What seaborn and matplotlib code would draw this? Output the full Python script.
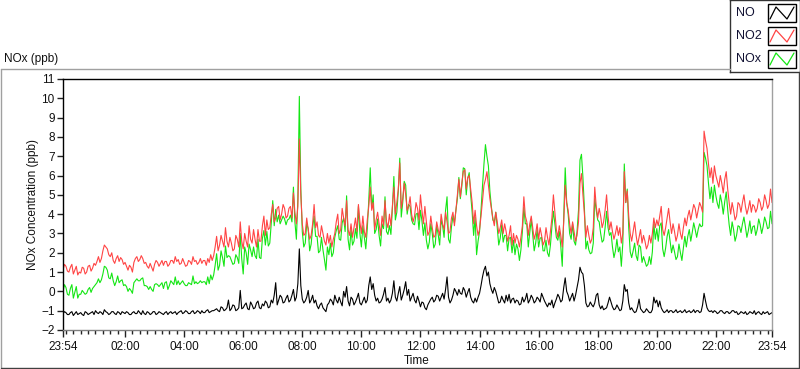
import matplotlib
matplotlib.use("Agg")
import matplotlib.pyplot as plt
import matplotlib.dates as mdates
from matplotlib.lines import Line2D
from matplotlib.patches import Rectangle
import pandas as pd
import seaborn as sns

OUT_PATH = "out.png"

# readings every 6 min from 23:54 to 23:54 next day (first value, then one row per hour)
START = "2015-06-01 23:54"
STEP = "6min"
# in-between readings, 3 min later (23:57, then rows of :03..:57, last row stops at 23:51)
MID_OFFSET = "3min"

NO_PPB = [
    -1.15,
    -1.1, -1.2, -1.05, -1.15, -1.2, -1.1, -1.25, -1.1, -1.15, -1.05,
    -1.0, -1.15, -1.1, -0.95, -1.1, -1.15, -1.05, -1.2, -1.1, -1.05,
    -1.15, -1.1, -1.2, -1.05, -1.15, -1.1, -1.0, -1.2, -1.1, -1.15,
    -1.05, -1.15, -1.1, -1.2, -1.05, -1.1, -1.15, -1.05, -1.1, -1.0,
    -1.1, -1.05, -1.15, -1.0, -1.1, -1.05, -1.0, -1.1, -0.95, -1.05,
    -1.0, -0.9, -1.05, -0.85, -0.95, -0.45, -0.9, -0.75, -0.95, 0.05,
    -0.85, -0.6, -0.95, -0.7, -0.85, -0.5, -0.9, -0.75, -0.6, -0.8,
    -0.6, 0.45, -0.45, -0.3, -0.55, -0.2, -0.45, 0.1, -0.3, 2.2,
    -0.4, -0.5, 0.05, -0.45, -0.6, -0.75, -0.7, -0.85, -1.05, -0.6,
    -0.5, -0.2, -0.6, -0.55, 0.0, 0.25, -0.75, -0.4, -0.55, -0.1,
    -0.7, -0.3, -0.45, 0.75, 0.4, -0.5, -0.6, -0.4, 0.2, -0.35,
    -0.45, 0.55, -0.5, 0.25, -0.2, 0.5, 0.1, -0.3, -0.45, -0.25,
    -0.8, -0.6, -0.95, -0.55, -0.3, -0.45, -0.25, -0.3, -0.4, 0.75,
    -0.6, -0.2, 0.0, 0.1, -0.15, 0.05, -0.05, -0.3, -0.6, -0.55,
    -0.1, 0.75, 1.3, 1.0, 0.1, 0.2, -0.3, -0.55, -0.45, -0.2,
    -0.15, -0.4, -0.6, -0.5, -0.65, -0.55, -0.1, -0.45, -0.35, -0.5,
    -0.4, -0.1, -0.5, -0.8, -0.7, -0.85, -0.4, -0.3, -0.45, 0.7,
    -0.2, -0.3, -0.5, 0.2, 1.25, 0.9, -0.6, -0.75, -0.7, -0.6,
    -0.1, -0.9, -0.95, -0.85, -0.3, -0.8, -0.9, -0.85, -0.95, 0.35,
    0.1, -0.95, -1.0, -1.05, -0.4, -1.0, -1.05, -1.0, -1.1, -0.3,
    -0.45, -0.5, -1.0, -1.05, -1.1, -1.0, -1.05, -1.1, -1.0, -1.05,
    -1.1, -1.0, -1.05, -1.1, -1.0, -1.05, -0.1, -0.85, -1.05, -1.1,
    -1.05, -1.1, -1.0, -1.15, -1.05, -1.1, -1.0, -1.05, -1.15, -1.1,
    -1.05, -1.15, -1.1, -1.0, -1.1, -1.15, -1.05, -1.1, -1.2, -1.1,
]
NO_PPB_MID = [
    -1.05,
    -1.2, -1.1, -1.25, -1.05, -1.15, -1.2, -1.05, -1.2, -1.1, -1.2,
    -1.1, -1.05, -1.2, -1.05, -1.2, -1.05, -1.15, -1.05, -1.2, -1.1,
    -1.05, -1.2, -1.1, -1.15, -1.0, -1.2, -1.15, -1.05, -1.2, -1.05,
    -1.2, -1.05, -1.15, -1.1, -1.2, -1.05, -1.1, -1.2, -1.05, -1.15,
    -1.0, -1.15, -1.05, -1.15, -1.0, -1.15, -1.1, -1.0, -1.1, -1.0,
    -0.95, -1.0, -0.8, -1.0, -0.85, -1.0, -0.7, -1.0, -0.85, -0.9,
    -0.7, -0.9, -0.55, -0.9, -0.6, -0.85, -0.65, -0.5, -0.85, -0.45,
    -0.2, -0.7, -0.2, -0.6, -0.35, -0.55, -0.2, -0.5, 0.4, 0.3,
    -0.6, -0.3, -0.6, -0.2, -0.45, -0.9, -0.6, -0.95, -0.7, -0.4,
    -0.7, -0.45, -0.3, -0.75, -0.3, -0.5, -0.3, -0.7, -0.35, -0.6,
    -0.5, -0.6, 0.3, 0.1, -0.2, -0.35, -0.55, -0.15, -0.5, -0.6,
    -0.1, -0.3, -0.1, -0.45, 0.1, -0.2, -0.5, -0.1, -0.6, -0.5,
    -0.55, -0.85, -0.7, -0.4, -0.55, -0.2, -0.5, -0.1, 0.1, -0.3,
    -0.45, 0.15, -0.2, -0.1, 0.2, -0.3, 0.15, -0.5, -0.35, -0.3,
    0.3, 1.1, 0.8, 0.4, -0.1, 0.0, -0.6, -0.25, -0.6, -0.5,
    -0.6, -0.35, -0.45, -0.7, -0.3, -0.4, -0.6, -0.2, -0.6, -0.3,
    -0.55, -0.3, -0.65, -0.6, -0.45, -0.6, -0.15, -0.55, 0.2, 0.0,
    -0.5, -0.1, -0.2, 0.6, 1.0, 0.3, -0.8, -0.55, -0.8, -0.2,
    -0.7, -0.75, -0.9, -0.6, -0.55, -0.95, -0.7, -1.0, -0.5, 0.0,
    -0.6, -0.85, -1.1, -0.8, -0.9, -1.1, -0.9, -1.1, -0.95, -0.6,
    -0.8, -0.85, -1.1, -0.95, -1.0, -1.1, -0.95, -1.05, -1.1, -0.95,
    -1.05, -1.1, -0.95, -1.0, -1.1, -0.7, -0.5, -1.0, -1.0, -1.0,
    -1.15, -1.0, -1.1, -1.05, -1.15, -1.0, -1.1, -1.2, -1.05, -1.15,
    -1.2, -1.05, -1.15, -1.2, -1.05, -1.2, -1.15, -1.05, -1.15,
]

NO2_PPB = [
    1.1,
    1.3, 1.0, 1.4, 1.1, 0.85, 0.95, 1.2, 1.0, 1.35, 1.2,
    1.35, 1.8, 1.7, 2.4, 2.2, 1.8, 1.6, 1.7, 1.55, 1.65,
    1.5, 1.1, 1.25, 1.5, 1.8, 1.65, 1.7, 1.5, 1.2, 1.25,
    1.4, 1.5, 1.45, 1.35, 1.55, 1.4, 1.6, 1.8, 1.65, 1.45,
    1.5, 1.35, 1.55, 1.8, 1.6, 1.5, 1.45, 1.6, 1.7, 1.9,
    1.85, 2.85, 2.4, 2.6, 3.3, 2.3, 2.5, 2.2, 2.7, 3.6,
    2.2, 2.6, 3.4, 2.5, 2.7, 3.2, 2.6, 3.9, 3.7, 3.3,
    4.5, 3.8, 4.4, 4.0, 4.3, 3.9, 4.4, 5.1, 3.5, 7.9,
    3.5, 3.0, 3.2, 2.9, 4.5, 3.6, 2.8, 3.0, 2.4, 2.5,
    2.3, 3.0, 4.0, 3.2, 3.8, 4.7, 2.9, 2.8, 3.8, 4.5,
    3.0, 3.1, 3.7, 5.4, 4.6, 3.7, 3.5, 3.9, 4.7, 3.3,
    3.4, 5.4, 4.6, 6.65, 4.8, 5.0, 4.4, 4.0, 3.9, 4.3,
    5.0, 3.5, 3.6, 3.1, 3.3, 2.9, 3.2, 4.0, 3.2, 3.6,
    3.1, 4.1, 4.2, 5.8, 5.6, 6.3, 5.9, 5.3, 3.5, 3.4,
    3.2, 4.7, 5.8, 5.5, 4.3, 3.4, 3.6, 3.3, 3.0, 3.1,
    2.9, 2.4, 2.5, 2.7, 2.8, 4.9, 3.6, 3.5, 3.3, 3.0,
    2.7, 2.9, 2.6, 2.8, 3.1, 5.0, 3.2, 3.4, 2.3, 5.5,
    4.2, 3.0, 3.1, 2.9, 5.6, 5.0, 2.8, 2.9, 2.7, 5.4,
    3.8, 3.9, 3.6, 5.0, 3.2, 3.1, 3.0, 2.9, 2.5, 6.2,
    5.2, 3.0, 3.1, 2.9, 2.8, 2.5, 2.6, 2.4, 2.5, 3.8,
    3.7, 3.9, 3.2, 3.3, 4.3, 3.0, 3.1, 2.9, 3.0, 3.3,
    3.4, 4.2, 4.1, 4.3, 4.2, 4.4, 8.3, 7.4, 5.9, 5.6,
    6.0, 5.4, 5.6, 5.8, 5.3, 4.0, 4.2, 3.9, 4.5, 4.6,
    4.4, 4.3, 4.1, 4.4, 4.3, 4.6, 4.4, 4.7, 4.5, 4.6,
]
NO2_PPB_MID = [
    1.4,
    1.05, 1.25, 0.9, 1.3, 1.0, 1.25, 0.9, 1.3, 1.05, 1.45,
    1.55, 1.5, 2.1, 2.3, 1.9, 2.0, 1.45, 1.85, 1.75, 1.4,
    1.3, 1.35, 1.0, 1.7, 1.55, 1.85, 1.45, 1.3, 1.45, 1.05,
    1.6, 1.3, 1.6, 1.55, 1.3, 1.6, 1.45, 1.55, 1.4, 1.7,
    1.3, 1.6, 1.4, 1.55, 1.4, 1.7, 1.6, 1.35, 1.5, 1.6,
    2.3, 2.1, 2.9, 2.3, 2.6, 2.8, 2.1, 2.9, 2.3, 2.6,
    3.0, 2.3, 2.7, 3.2, 2.3, 2.6, 3.4, 2.9, 3.2, 4.0,
    3.6, 4.3, 3.7, 4.5, 3.8, 4.3, 3.8, 4.1, 4.4, 5.0,
    2.9, 3.8, 2.7, 3.5, 3.3, 2.9, 3.4, 2.6, 3.0, 2.9,
    2.7, 3.6, 3.0, 4.3, 3.4, 3.2, 3.5, 3.3, 3.1, 3.6,
    3.9, 2.8, 4.4, 4.2, 3.2, 4.1, 2.9, 3.4, 3.6, 4.0,
    4.4, 4.0, 5.3, 4.3, 5.6, 4.2, 4.9, 3.6, 4.6, 3.7,
    4.2, 4.4, 2.9, 3.9, 2.8, 3.6, 2.9, 3.5, 4.1, 3.0,
    3.8, 3.4, 5.0, 4.9, 6.2, 5.3, 6.0, 4.6, 4.2, 2.9,
    3.9, 5.5, 6.2, 4.8, 3.8, 4.1, 3.0, 3.7, 3.5, 2.6,
    3.4, 3.0, 2.9, 2.3, 3.4, 3.9, 2.9, 3.9, 2.7, 3.5,
    3.3, 2.4, 3.3, 2.4, 3.8, 4.1, 2.8, 2.9, 3.6, 4.6,
    3.5, 3.6, 2.6, 3.6, 6.1, 4.0, 3.4, 2.5, 3.3, 4.4,
    4.3, 3.3, 4.2, 3.9, 3.6, 2.7, 3.4, 3.3, 3.0, 4.6,
    3.9, 2.6, 3.6, 2.4, 3.2, 2.9, 2.2, 2.9, 3.0, 3.3,
    3.4, 4.4, 2.9, 3.8, 3.6, 3.5, 2.6, 3.5, 2.7, 3.8,
    3.9, 3.7, 4.5, 3.8, 4.6, 4.1, 7.8, 6.6, 6.4, 6.5,
    5.7, 6.0, 5.1, 6.2, 4.6, 4.6, 3.7, 4.6, 4.1, 5.0,
    4.0, 4.7, 4.5, 4.1, 4.8, 4.2, 5.0, 4.3, 5.3,
]

NOX_PPB = [
    0.0,
    0.2, -0.2, 0.35, -0.05, -0.35, -0.15, -0.05, -0.1, 0.2, 0.15,
    0.35, 0.65, 0.6, 1.3, 1.1, 0.65, 0.55, 0.5, 0.45, 0.6,
    0.35, 0.0, 0.05, 0.45, 0.65, 0.55, 0.7, 0.3, 0.1, 0.1,
    0.35, 0.35, 0.35, 0.15, 0.5, 0.3, 0.45, 0.75, 0.55, 0.45,
    0.4, 0.3, 0.4, 0.8, 0.5, 0.45, 0.45, 0.5, 0.75, 0.85,
    0.85, 1.95, 1.35, 1.75, 2.35, 1.85, 1.6, 1.45, 1.75, 3.0,
    0.9, 2.0, 2.45, 1.8, 1.85, 2.7, 1.7, 3.15, 3.1, 2.5,
    4.7, 4.25, 3.95, 3.7, 3.75, 3.7, 3.95, 5.4, 2.7, 10.1,
    3.1, 2.5, 3.25, 2.45, 3.9, 2.85, 2.1, 2.15, 1.1, 1.9,
    1.8, 2.8, 3.4, 2.65, 3.8, 4.95, 2.15, 2.4, 3.25, 4.4,
    2.3, 2.8, 3.25, 6.4, 5.0, 3.2, 2.9, 3.5, 4.9, 2.95,
    2.95, 5.95, 4.1, 6.9, 4.6, 5.5, 4.5, 3.7, 3.45, 4.05,
    4.2, 2.9, 2.65, 2.55, 3.0, 2.45, 2.95, 3.7, 2.8, 4.9,
    2.5, 3.9, 4.2, 5.9, 5.45, 6.35, 5.85, 5.0, 2.9, 1.9,
    3.1, 5.45, 7.6, 6.5, 4.4, 3.6, 3.3, 2.75, 2.55, 2.9,
    2.75, 2.0, 1.9, 2.2, 2.15, 4.35, 3.5, 3.05, 2.95, 2.5,
    2.3, 2.8, 2.1, 2.0, 2.4, 4.15, 2.8, 3.1, 1.3, 6.4,
    4.0, 2.7, 2.6, 3.1, 6.8, 5.9, 2.2, 2.15, 2.0, 4.8,
    3.7, 3.0, 2.65, 4.15, 2.9, 2.3, 2.1, 2.05, 1.3, 6.6,
    5.3, 2.05, 2.1, 1.85, 2.4, 1.5, 1.55, 1.4, 1.4, 3.5,
    3.25, 3.4, 2.2, 2.25, 3.2, 2.0, 2.05, 1.8, 2.0, 2.25,
    2.3, 3.2, 3.05, 3.2, 3.2, 3.35, 7.2, 6.5, 4.8, 4.6,
    4.95, 4.3, 4.6, 4.65, 4.25, 2.9, 3.2, 2.9, 3.35, 3.5,
    3.35, 3.15, 3.0, 3.4, 3.2, 3.45, 3.35, 3.6, 3.3, 3.5,
]
NOX_PPB_MID = [
    0.35,
    -0.15, 0.15, -0.35, 0.25, -0.15, 0.05, -0.15, 0.1, -0.05, 0.25,
    0.45, 0.45, 0.9, 1.25, 0.7, 0.95, 0.3, 0.8, 0.55, 0.3,
    0.25, 0.15, -0.1, 0.55, 0.55, 0.65, 0.3, 0.25, 0.25, 0.0,
    0.4, 0.25, 0.45, 0.45, 0.1, 0.55, 0.35, 0.35, 0.35, 0.55,
    0.3, 0.45, 0.35, 0.4, 0.4, 0.55, 0.5, 0.35, 0.4, 0.6,
    1.35, 1.1, 2.1, 1.3, 1.75, 1.8, 1.4, 1.9, 1.45, 1.7,
    2.3, 1.4, 2.15, 2.3, 1.7, 1.75, 2.75, 2.4, 2.35, 3.55,
    3.4, 3.6, 3.5, 3.9, 3.45, 3.75, 3.6, 3.6, 4.8, 5.3,
    2.3, 3.5, 2.1, 3.3, 2.85, 2.0, 2.8, 1.65, 2.3, 2.5,
    2.0, 3.15, 2.7, 3.55, 3.1, 2.7, 3.2, 2.6, 2.75, 3.0,
    3.4, 2.2, 4.7, 4.3, 3.0, 3.75, 2.35, 3.25, 3.1, 3.4,
    4.3, 3.7, 5.2, 3.85, 5.7, 4.0, 4.4, 3.5, 4.0, 3.2,
    3.65, 3.55, 2.2, 3.5, 2.25, 3.4, 2.4, 3.4, 4.2, 2.7,
    3.35, 3.55, 4.8, 4.8, 6.4, 5.0, 6.15, 4.1, 3.85, 2.6,
    4.2, 6.6, 7.0, 5.2, 3.7, 4.1, 2.4, 3.45, 2.9, 2.1,
    2.8, 2.65, 2.45, 1.6, 3.1, 3.5, 2.3, 3.7, 2.1, 3.2,
    2.75, 2.1, 2.65, 1.8, 3.35, 3.5, 2.65, 2.35, 3.8, 4.6,
    3.0, 3.5, 2.4, 4.2, 7.1, 4.3, 2.6, 1.95, 2.5, 4.2,
    3.6, 2.55, 3.3, 3.3, 3.05, 1.75, 2.7, 2.3, 2.5, 4.6,
    3.3, 1.75, 2.5, 1.6, 2.3, 1.8, 1.3, 1.8, 2.05, 2.7,
    2.6, 3.55, 1.8, 2.85, 2.6, 2.4, 1.65, 2.45, 1.6, 2.85,
    2.85, 2.6, 3.55, 2.8, 3.5, 3.4, 6.9, 5.6, 5.4, 5.5,
    4.55, 5.0, 4.0, 5.15, 3.45, 3.6, 2.6, 3.4, 3.05, 3.85,
    2.8, 3.65, 3.35, 2.9, 3.75, 3.0, 3.85, 3.25, 4.15,
]

SERIES = ["NO", "NO2", "NOx"]
COLORS = {"NO": "#000000", "NO2": "#FF4444", "NOx": "#14E614"}

W, H = 800, 369


def fx(px):
    return px / W


def fy(py):
    return 1 - py / H


def build_frame():
    t_on = pd.date_range(START, periods=len(NO_PPB), freq=STEP)
    t_mid = pd.date_range(pd.Timestamp(START) + pd.Timedelta(MID_OFFSET),
                          periods=len(NO_PPB_MID), freq=STEP)
    on = pd.DataFrame({"Time": t_on, "NO": NO_PPB, "NO2": NO2_PPB, "NOx": NOX_PPB})
    mid = pd.DataFrame({"Time": t_mid, "NO": NO_PPB_MID, "NO2": NO2_PPB_MID,
                        "NOx": NOX_PPB_MID})
    df = pd.concat([on, mid]).sort_values("Time").reset_index(drop=True)
    return df


def main():
    df = build_frame()
    long = df.melt(id_vars="Time", var_name="series", value_name="ppb")
    t0, t1 = df["Time"].iloc[0], df["Time"].iloc[-1]

    sns.set_theme(style="white")
    plt.rcParams["font.family"] = ["Liberation Sans", "DejaVu Sans"]

    fig = plt.figure(figsize=(W / 100, H / 100), dpi=100)
    fig.patch.set_facecolor("white")

    ax = fig.add_axes([fx(63), fy(330), fx(772) - fx(63), fy(79) - fy(330)])
    sns.lineplot(data=long, x="Time", y="ppb", hue="series",
                 hue_order=["NOx", "NO2", "NO"], palette=COLORS,
                 estimator=None, linewidth=0.8, legend=False, ax=ax)

    ax.set_xlim(t0, t1)
    ax.set_ylim(-2, 11)
    ax.set_yticks(range(-2, 12))
    day = t0.normalize() + pd.Timedelta(days=1)
    major = [t0] + list(pd.date_range(day + pd.Timedelta(hours=2),
                                      day + pd.Timedelta(hours=22), freq="2h")) + [t1]
    ax.set_xticks(major)
    ax.set_xticklabels([t.strftime("%H:%M") for t in major])
    ax.xaxis.set_minor_locator(mdates.MinuteLocator(byminute=[0, 15, 30, 45]))
    ax.set_xlabel("")
    ax.set_ylabel("")

    ax.tick_params(axis="both", which="both", bottom=True, left=True,
                   direction="out", colors="#222222", labelcolor="#111111",
                   labelsize=8.5, width=1)
    ax.tick_params(axis="y", which="major", length=4, pad=2)
    ax.tick_params(axis="x", which="major", length=5, pad=3)
    ax.tick_params(axis="x", which="minor", length=3)

    for side, col in [("top", "#000000"), ("left", "#000000"),
                      ("bottom", "#808080"), ("right", "#A0A0A0")]:
        ax.spines[side].set_visible(True)
        ax.spines[side].set_color(col)
        ax.spines[side].set_linewidth(1)

    fig.text(fx(33), fy(204), "NOx Concentration (ppb)", rotation=90,
             ha="center", va="center", fontsize=8.5, color="#111111")
    fig.text(fx(417), fy(361), "Time", ha="center", va="center",
             fontsize=8.5, color="#111111")
    fig.text(fx(4), fy(59), "NOx (ppb)", ha="left", va="center",
             fontsize=8.5, color="#111111")

    # panel frame
    frame = [((0.5, 69), (730, 69), "#A0A0A0"), ((0.5, 69), (0.5, 368), "#A0A0A0"),
             ((0.5, 367.5), (799, 367.5), "#404040"), ((798.5, 72), (798.5, 368), "#404040")]
    for (x0, y0), (x1, y1), col in frame:
        fig.add_artist(Line2D([fx(x0), fx(x1)], [fy(y0), fy(y1)],
                              transform=fig.transFigure, color=col, lw=1))

    # legend box
    lax = fig.add_axes([fx(730), fy(72), fx(800) - fx(730), 72 / H])
    lax.set_xlim(730, 800)
    lax.set_ylim(72, 0)
    lax.set_xticks([])
    lax.set_yticks([])
    lax.set_facecolor("white")
    for side in lax.spines:
        lax.spines[side].set_color("#333333")
        lax.spines[side].set_linewidth(1)
    for k, name in enumerate(SERIES):
        yc = 13 + k * 23
        lax.text(736, yc, name, ha="left", va="center", fontsize=9, color="#111133")
        lax.add_patch(Rectangle((768, yc - 9), 28, 18, fill=False, ec="black", lw=1))
        lax.plot([770, 776, 787, 794], [yc + 6, yc - 6, yc + 6, yc - 6],
                 color=COLORS[name], lw=0.9)

    fig.savefig(OUT_PATH, dpi=100, facecolor="white")
    plt.close(fig)


if __name__ == "__main__":
    main()
